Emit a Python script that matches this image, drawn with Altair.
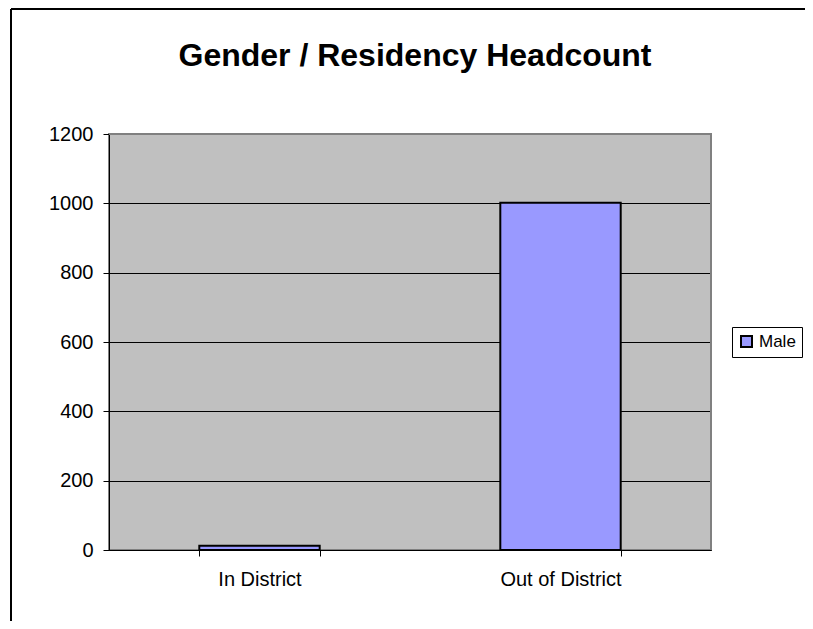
import altair as alt
import pandas as pd

categories = ["In District", "Out of District"]
male = [12, 1002]
series_name = ["Male", "Male"]
y_ticks = [0, 200, 400, 600, 800, 1000, 1200]
title_text = ["Gender / Residency Headcount"]

df = pd.DataFrame({"Residency": categories, "Headcount": male, "Series": series_name})
FONT = "Liberation Sans"

bars = alt.Chart(df).mark_bar(stroke="black", strokeWidth=2).encode(
    x=alt.X(
        "Residency:N", sort=categories, title=None,
        scale=alt.Scale(paddingInner=0.6, paddingOuter=0.3),
        axis=alt.Axis(labelAngle=0, labelFontSize=20, labelFont=FONT, labelColor="black",
                      tickBand="extent", tickSize=6, tickColor="black", domainColor="black",
                      domainWidth=1, labelPadding=13, grid=False),
    ),
    y=alt.Y(
        "Headcount:Q", title=None, scale=alt.Scale(domain=[0, 1200], nice=False),
        axis=alt.Axis(values=y_ticks, format="d", grid=True, gridColor="black", gridWidth=1,
                      gridOpacity=1, labelFontSize=20, labelFont=FONT, labelColor="black",
                      tickSize=6, tickColor="black", domainColor="black", domainWidth=1,
                      labelPadding=10),
    ),
    color=alt.Color(
        "Series:N", scale=alt.Scale(range=["#9999FF"]),
        legend=alt.Legend(title=None, orient="none", legendX=623, legendY=193,
                          strokeColor="black", fillColor="white", padding=6,
                          symbolType="square", symbolSize=121, symbolStrokeColor="black",
                          symbolStrokeWidth=2, symbolOpacity=1, labelFontSize=17, labelFont=FONT,
                          labelColor="black", labelOffset=4),
    ),
)

frame_df = pd.DataFrame({"k": [0]})
left_line = alt.Chart(frame_df).mark_rule(color="black", strokeWidth=2).encode(
    x=alt.value(-98), y=alt.value(-125), y2=alt.value(487)
)
top_line = alt.Chart(frame_df).mark_rule(color="black", strokeWidth=2).encode(
    x=alt.value(-98), x2=alt.value(696), y=alt.value(-125)
)
plot_top = alt.Chart(frame_df).mark_rule(color="#808080", strokeWidth=2).encode(
    x=alt.value(0), x2=alt.value(602), y=alt.value(0)
)
plot_right = alt.Chart(frame_df).mark_rule(color="#808080", strokeWidth=2).encode(
    x=alt.value(602), y=alt.value(0), y2=alt.value(416)
)

title = alt.Chart(pd.DataFrame({"t": title_text})).mark_text(
    font=FONT, fontSize=32, fontWeight="bold", color="black", align="center",
    baseline="alphabetic"
).encode(text="t:N", x=alt.value(306), y=alt.value(-68))

chart = alt.layer(bars, plot_top, plot_right, left_line, top_line, title).properties(
    width=602, height=416,
    autosize=alt.AutoSizeParams(type="none"),
    padding={"left": 101, "top": 126, "right": 94, "bottom": 71},
).configure(background="white").configure_view(
    fill="#C0C0C0", stroke="#808080", strokeWidth=2
)

chart.save("out.html", embed_options={"renderer": "svg", "actions": False})
